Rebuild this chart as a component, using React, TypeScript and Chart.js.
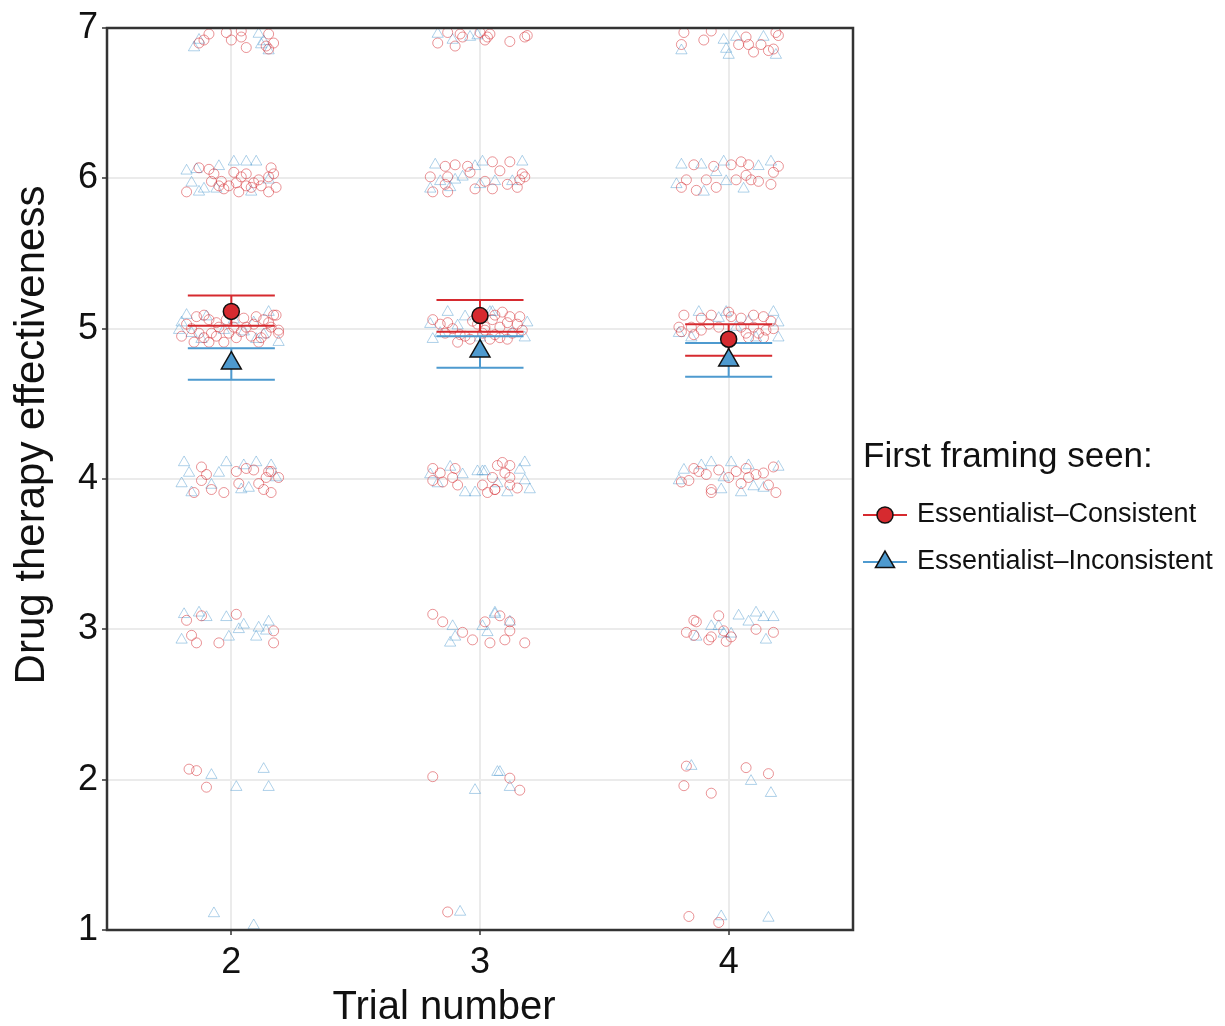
import React, { useEffect, useRef } from "react";
import { Chart, registerables } from "chart.js";

Chart.register(...registerables);

// ---------- data ----------
const trials = [2, 3, 4];
const yTickValues = [1, 2, 3, 4, 5, 6, 7];

const consistentMean = [5.115, 5.087, 4.93];
const consistentLow = [5.02, 4.98, 4.82];
const consistentHigh = [5.22, 5.19, 5.03];

const inconsistentMean = [4.77, 4.85, 4.79];
const inconsistentLow = [4.66, 4.74, 4.68];
const inconsistentHigh = [4.87, 4.95, 4.905];

// jittered individual responses [x, y]
const consistentT2: [number, number][] = [
  [1.91, 6.96], [1.98, 6.97], [2.04, 6.98], [2.04, 6.94], [2.0, 6.92], [2.15, 6.96], [2.17, 6.9], [2.06, 6.87], [2.14, 6.88], [1.89, 6.92], [1.87, 6.9], [2.15, 6.86],
  [1.87, 6.07], [1.82, 5.91], [1.92, 5.98], [1.91, 6.06], [1.96, 5.98], [2.01, 6.04], [2.02, 5.97], [2.04, 6.01], [2.06, 5.95], [2.09, 5.97], [2.11, 5.99], [2.12, 5.95], [2.16, 6.07], [2.17, 6.03], [2.15, 6.01], [2.18, 5.94], [2.03, 5.91], [1.97, 5.93], [1.93, 6.03], [2.06, 6.03], [2.15, 5.91], [1.99, 5.95], [2.08, 5.94], [1.95, 5.95],
  [1.82, 5.03], [1.86, 5.08], [1.89, 5.09], [1.91, 5.06], [1.94, 5.04], [1.87, 4.97], [1.92, 4.97], [1.91, 4.91], [1.97, 4.91], [2.02, 4.94], [2.01, 5.01], [2.06, 5.01], [2.05, 5.07], [2.1, 5.08], [2.13, 5.06], [2.18, 5.09], [2.14, 4.97], [2.19, 4.97], [2.11, 4.91], [2.08, 4.95], [1.98, 5.06], [1.85, 4.91], [2.16, 5.01], [1.95, 5.01], [2.19, 4.99], [2.17, 5.09], [1.8, 4.95],
  [1.84, 5.0], [1.89, 4.94], [1.94, 4.95], [2.04, 4.98], [2.09, 5.03], [2.12, 4.94], [1.99, 4.97], [2.15, 5.04],
  [1.88, 4.08], [1.9, 4.03], [1.88, 3.99], [1.85, 3.91], [1.92, 3.93], [1.97, 3.91], [2.02, 4.05], [2.06, 4.07], [2.09, 4.06], [2.15, 4.05], [2.16, 4.05], [2.19, 4.01], [2.03, 3.97], [2.11, 3.97], [2.13, 3.93], [2.16, 3.91], [2.14, 4.01],
  [1.82, 3.06], [1.88, 3.09], [2.02, 3.1], [1.84, 2.96], [1.86, 2.91], [1.95, 2.91], [2.17, 2.99], [2.17, 2.91],
  [1.83, 2.07], [1.86, 2.06], [1.9, 1.95],
];
const inconsistentT2: [number, number][] = [
  [1.85, 6.87], [1.87, 6.92], [2.11, 6.96], [2.13, 6.91], [2.15, 6.85], [2.12, 6.89],
  [1.82, 6.05], [1.84, 5.97], [1.89, 5.93], [1.95, 6.08], [2.01, 6.11], [2.06, 6.11], [2.1, 6.11], [1.94, 5.93], [1.86, 6.06], [2.08, 5.91], [1.87, 5.91], [2.15, 5.99],
  [1.82, 5.09], [1.84, 4.97], [1.97, 4.99], [2.01, 5.06], [2.05, 4.98], [2.1, 4.93], [2.15, 5.11], [2.19, 4.91], [1.88, 4.93], [2.09, 5.04], [1.8, 5.04], [1.79, 4.99], [1.9, 5.08], [2.13, 4.96],
  [1.81, 4.11], [1.8, 3.97], [1.84, 3.91], [1.83, 4.04], [1.92, 3.96], [1.95, 4.04], [1.98, 4.11], [2.05, 4.09], [2.1, 4.11], [2.16, 4.09], [2.07, 3.94], [2.18, 4.01], [2.04, 3.93],
  [1.81, 3.1], [1.87, 3.11], [1.9, 3.08], [1.8, 2.93], [1.98, 3.08], [1.99, 2.95], [2.03, 3.0], [2.05, 3.03], [2.11, 3.01], [2.1, 2.95], [2.15, 3.05], [2.14, 2.99],
  [1.92, 2.03], [2.02, 1.95], [2.13, 2.07], [2.15, 1.95],
  [1.93, 1.11], [2.09, 1.03],
];
const consistentT3: [number, number][] = [
  [2.83, 6.9], [2.87, 6.97], [2.92, 6.96], [2.9, 6.88], [3.0, 6.97], [3.02, 6.92], [3.04, 6.96], [2.93, 6.94], [3.12, 6.91], [3.18, 6.94], [3.19, 6.95], [3.03, 6.94],
  [2.8, 6.01], [2.86, 6.08], [2.9, 6.09], [2.87, 6.01], [2.87, 5.91], [2.81, 5.91], [2.95, 6.08], [2.96, 6.04], [3.02, 5.98], [3.05, 6.11], [2.98, 5.93], [3.05, 5.93], [2.86, 5.96], [3.12, 6.11], [3.08, 6.05], [3.11, 5.96], [3.16, 5.99], [3.18, 6.01], [3.15, 5.94], [3.17, 6.03],
  [2.81, 5.06], [2.84, 5.03], [2.87, 5.04], [2.91, 4.91], [2.97, 5.05], [3.02, 5.01], [3.05, 5.06], [2.86, 4.97], [2.94, 4.95], [3.01, 4.97], [3.06, 4.96], [3.06, 5.09], [3.09, 5.11], [3.12, 5.08], [3.16, 5.08], [3.08, 5.01], [3.11, 5.04], [3.15, 5.03], [3.02, 4.99], [3.08, 4.94], [3.11, 4.93], [3.04, 4.93], [3.17, 4.99],
  [2.89, 5.0], [2.92, 4.96], [2.96, 4.93], [3.13, 4.97], [2.99, 5.03],
  [2.81, 4.07], [2.84, 4.04], [2.81, 3.99], [2.85, 3.98], [2.9, 4.07], [2.89, 4.01], [2.91, 3.96], [3.01, 3.96], [3.03, 3.91], [3.06, 3.93], [3.07, 4.09], [3.09, 4.11], [3.12, 4.09], [3.1, 4.04], [3.05, 4.01], [3.12, 4.01], [3.06, 3.93], [3.12, 3.96], [3.15, 3.94],
  [2.81, 3.1], [2.85, 3.05], [2.93, 2.98], [2.97, 2.93], [3.02, 3.05], [3.04, 2.91], [3.08, 3.09], [3.12, 3.05], [3.12, 2.99], [3.1, 2.93], [3.18, 2.91],
  [2.81, 2.02], [3.12, 2.01], [3.16, 1.93],
  [2.87, 1.12],
];
const inconsistentT3: [number, number][] = [
  [2.83, 6.96], [2.89, 6.92], [2.96, 6.94], [2.99, 6.95],
  [2.82, 6.09], [2.8, 5.93], [2.84, 5.98], [2.93, 6.01], [2.98, 6.08], [3.01, 6.11], [2.88, 5.94], [2.9, 5.99], [3.17, 6.11], [3.06, 5.98], [3.13, 5.98], [3.0, 5.96],
  [2.8, 5.03], [2.81, 4.93], [2.87, 5.11], [2.94, 5.08], [2.84, 4.97], [3.05, 5.11], [3.04, 5.11], [3.19, 5.04], [3.18, 4.94], [3.13, 4.97], [3.0, 4.94], [2.91, 5.02],
  [2.8, 4.03], [2.88, 4.08], [2.93, 4.03], [2.94, 3.91], [2.99, 4.05], [3.02, 4.05], [2.98, 3.91], [2.83, 3.97], [3.18, 4.11], [3.01, 4.05], [3.16, 4.06], [3.18, 3.99], [3.2, 3.93], [3.11, 3.91], [3.07, 3.97],
  [2.89, 3.02], [2.88, 2.91], [2.9, 2.95], [3.01, 3.02], [3.03, 2.98], [3.06, 3.1], [3.06, 3.11], [3.12, 3.05],
  [2.98, 1.93], [3.07, 2.05], [3.08, 2.05], [3.12, 1.95],
  [2.92, 1.12],
];
const consistentT4: [number, number][] = [
  [3.82, 6.97], [3.81, 6.89], [3.9, 6.92], [3.93, 6.98], [4.07, 6.94], [4.04, 6.89], [4.08, 6.89], [4.13, 6.89], [4.1, 6.84], [4.16, 6.85], [4.18, 6.86], [4.19, 6.97], [4.2, 6.95],
  [3.86, 6.09], [3.81, 5.94], [3.83, 5.99], [3.91, 5.99], [3.94, 6.08], [4.01, 6.09], [4.05, 6.11], [4.08, 6.09], [4.03, 5.99], [4.09, 5.99], [4.12, 5.98], [4.17, 5.96], [4.2, 6.08], [4.18, 6.04], [3.95, 5.94], [3.87, 5.92], [4.07, 6.02],
  [3.82, 5.09], [3.8, 5.01], [3.85, 5.01], [3.89, 5.07], [3.93, 5.09], [4.0, 5.11], [4.01, 5.08], [4.05, 5.07], [4.1, 5.09], [4.14, 5.08], [4.17, 5.05], [4.15, 4.99], [4.1, 5.01], [4.07, 4.97], [4.08, 4.94], [4.14, 4.94], [3.89, 4.99], [3.96, 5.01], [3.81, 4.98], [4.05, 5.01],
  [3.86, 4.96], [3.92, 5.03], [4.12, 4.97], [4.18, 5.0],
  [3.81, 3.98], [3.84, 3.99], [3.86, 4.07], [3.88, 4.05], [3.91, 4.03], [3.93, 3.93], [3.93, 3.91], [4.0, 4.01], [4.03, 4.05], [4.05, 3.97], [4.07, 4.07], [4.08, 4.01], [4.11, 4.03], [4.14, 4.04], [4.16, 3.96], [4.18, 4.08], [4.19, 3.91], [3.96, 4.06],
  [3.86, 3.06], [3.87, 3.05], [3.83, 2.98], [3.86, 2.96], [3.92, 2.93], [3.96, 3.09], [3.98, 2.99], [3.99, 2.92], [4.01, 2.95], [4.11, 3.0], [4.18, 2.98], [3.93, 2.95],
  [3.83, 2.09], [3.82, 1.96], [3.93, 1.91], [4.07, 2.08], [4.16, 2.04],
  [3.84, 1.09], [3.96, 1.05],
];
const inconsistentT4: [number, number][] = [
  [3.81, 6.85], [3.98, 6.92], [4.0, 6.82], [4.03, 6.94], [4.14, 6.94], [4.19, 6.82], [3.99, 6.86],
  [3.81, 6.09], [3.79, 5.96], [3.89, 6.09], [3.98, 6.11], [3.95, 6.04], [3.99, 5.98], [4.06, 5.93], [4.12, 6.08], [4.17, 6.11], [3.9, 5.91],
  [3.8, 4.97], [3.88, 5.11], [3.99, 5.11], [4.03, 5.01], [4.18, 5.11], [4.2, 5.04], [4.2, 4.94], [4.11, 4.94], [3.85, 4.94], [3.96, 5.07], [4.08, 5.05],
  [3.82, 4.06], [3.8, 3.99], [3.89, 4.09], [3.93, 4.11], [3.97, 3.93], [4.01, 4.11], [4.05, 3.91], [4.08, 4.09], [4.1, 3.95], [4.14, 3.94], [4.2, 4.08], [3.98, 4.01],
  [3.87, 2.95], [3.93, 3.02], [3.96, 3.02], [4.01, 2.97], [4.04, 3.09], [4.08, 3.05], [4.11, 3.11], [4.14, 3.08], [4.18, 3.08], [4.15, 2.93], [3.98, 2.97],
  [3.85, 2.09], [4.09, 1.99], [4.17, 1.91],
  [3.97, 1.09], [4.16, 1.08],
];

const groupLabels = ["Essentialist\u2013Consistent", "Essentialist\u2013Inconsistent"];
const legendTitle = "First framing seen:";
const xTitle = "Trial number";
const yTitle = "Drug therapy effectiveness";

// ---------- styles ----------
const RED = "#D62A2F";
const BLUE = "#4E9ACF";
const RED_JIT = "rgba(214,42,47,0.5)";
const BLUE_JIT = "rgba(78,154,207,0.45)";
const FONT = "'Liberation Sans', Arial, Helvetica, sans-serif";
const CAP_HALF = 0.175;

const toPts = (arr: [number, number][]) => arr.map(([x, y]) => ({ x, y }));

export default function App() {
  const ref = useRef<HTMLCanvasElement | null>(null);

  useEffect(() => {
    document.body.style.margin = "0";
    const canvas = ref.current!;

    const errorBars = {
      id: "errorBars",
      beforeDatasetDraw(chart: any, args: any) {
        if (args.index !== 1) return;
        const xs = chart.scales.x;
        const ys = chart.scales.y;
        const ctx = chart.ctx;
        const groups = [
          { lo: inconsistentLow, hi: inconsistentHigh, c: BLUE },
          { lo: consistentLow, hi: consistentHigh, c: RED },
        ];
        ctx.save();
        ctx.lineWidth = 2;
        groups.forEach((g) => {
          ctx.strokeStyle = g.c;
          trials.forEach((t, i) => {
            const xc = xs.getPixelForValue(t);
            const xl = xs.getPixelForValue(t - CAP_HALF);
            const xr = xs.getPixelForValue(t + CAP_HALF);
            const yl = ys.getPixelForValue(g.lo[i]);
            const yh = ys.getPixelForValue(g.hi[i]);
            ctx.beginPath();
            ctx.moveTo(xc, yl);
            ctx.lineTo(xc, yh);
            ctx.moveTo(xl, yl);
            ctx.lineTo(xr, yl);
            ctx.moveTo(xl, yh);
            ctx.lineTo(xr, yh);
            ctx.stroke();
          });
        });
        ctx.restore();
      },
    };

    const frame = {
      id: "frame",
      afterDraw(chart: any) {
        const { ctx, chartArea: a } = chart;
        ctx.save();
        ctx.strokeStyle = "#333333";
        ctx.lineWidth = 2.5;
        ctx.strokeRect(a.left, a.top, a.right - a.left, a.bottom - a.top);

        // axis titles
        ctx.fillStyle = "#111111";
        ctx.textAlign = "center";
        ctx.textBaseline = "alphabetic";
        ctx.font = `40px ${FONT}`;
        ctx.fillText(xTitle, (a.left + a.right) / 2 - 36, a.bottom + 89);
        ctx.save();
        ctx.font = `42px ${FONT}`;
        ctx.translate(a.left - 63, (a.top + a.bottom) / 2 - 44);
        ctx.rotate(-Math.PI / 2);
        ctx.fillText(yTitle, 0, 0);
        ctx.restore();

        // legend
        const lx = a.right + 10;
        ctx.textAlign = "left";
        ctx.font = `35px ${FONT}`;
        ctx.fillText(legendTitle, lx, a.top + 439);
        ctx.font = `27px ${FONT}`;
        ctx.textBaseline = "middle";
        const rows = [
          { y: a.top + 487, c: RED, shape: "circle" },
          { y: a.top + 534, c: BLUE, shape: "triangle" },
        ];
        rows.forEach((r, i) => {
          ctx.strokeStyle = r.c;
          ctx.lineWidth = 2;
          ctx.beginPath();
          ctx.moveTo(lx, r.y);
          ctx.lineTo(lx + 44, r.y);
          ctx.stroke();
          ctx.fillStyle = r.c;
          ctx.strokeStyle = "#111111";
          ctx.lineWidth = 1.5;
          ctx.beginPath();
          if (r.shape === "circle") {
            ctx.arc(lx + 22, r.y, 8, 0, Math.PI * 2);
          } else {
            const rad = 11;
            ctx.moveTo(lx + 22, r.y - rad);
            ctx.lineTo(lx + 22 + rad * Math.sin((2 * Math.PI) / 3), r.y + rad / 2);
            ctx.lineTo(lx + 22 - rad * Math.sin((2 * Math.PI) / 3), r.y + rad / 2);
            ctx.closePath();
          }
          ctx.fill();
          ctx.stroke();
          ctx.fillStyle = "#111111";
          ctx.fillText(groupLabels[i], lx + 54, r.y);
        });
        ctx.restore();
      },
    };

    const chart = new Chart(canvas, {
      type: "scatter",
      data: {
        datasets: [
          {
            label: groupLabels[0] + " mean",
            data: trials.map((t, i) => ({ x: t, y: consistentMean[i] })),
            pointStyle: "circle",
            pointRadius: 8,
            backgroundColor: RED,
            borderColor: "#111111",
            borderWidth: 1.5,
            order: 0,
          },
          {
            label: groupLabels[1] + " mean",
            data: trials.map((t, i) => ({ x: t, y: inconsistentMean[i] })),
            pointStyle: "triangle",
            pointRadius: 11.5,
            backgroundColor: BLUE,
            borderColor: "#111111",
            borderWidth: 1.5,
            order: 0,
          },
          {
            label: groupLabels[0],
            data: [...toPts(consistentT2), ...toPts(consistentT3), ...toPts(consistentT4)],
            pointStyle: "circle",
            pointRadius: 5,
            backgroundColor: "rgba(0,0,0,0)",
            borderColor: RED_JIT,
            borderWidth: 1,
            clip: 0,
            order: 1,
          },
          {
            label: groupLabels[1],
            data: [...toPts(inconsistentT2), ...toPts(inconsistentT3), ...toPts(inconsistentT4)],
            pointStyle: "triangle",
            pointRadius: 6.5,
            backgroundColor: "rgba(0,0,0,0)",
            borderColor: BLUE_JIT,
            borderWidth: 1,
            clip: 0,
            order: 1,
          },
        ] as any,
      },
      options: {
        responsive: false,
        animation: false,
        devicePixelRatio: 1,
        layout: { padding: { top: 28, right: 372, bottom: 0, left: 0 } },
        plugins: {
          legend: { display: false },
          tooltip: { enabled: false },
          title: { display: false },
        },
        scales: {
          x: {
            type: "linear",
            min: 1.5,
            max: 4.5,
            afterBuildTicks: (s: any) => {
              s.ticks = trials.map((v) => ({ value: v }));
            },
            afterFit: (s: any) => {
              s.height = 96;
            },
            ticks: {
              font: { family: FONT, size: 36 },
              color: "#111111",
              padding: 6,
              maxRotation: 0,
            },
            grid: { color: "#EBEBEB", lineWidth: 2, tickColor: "#333333", tickLength: 5, tickWidth: 1.5 },
            border: { display: false },
          },
          y: {
            type: "linear",
            min: 1,
            max: 7,
            afterBuildTicks: (s: any) => {
              s.ticks = yTickValues.map((v) => ({ value: v }));
            },
            afterFit: (s: any) => {
              s.width = 107;
            },
            ticks: {
              font: { family: FONT, size: 36 },
              color: "#111111",
              padding: 4,
            },
            grid: { color: "#EBEBEB", lineWidth: 2, tickColor: "#333333", tickLength: 5, tickWidth: 1.5 },
            border: { display: false },
          },
        },
      } as any,
      plugins: [errorBars, frame],
    });

    return () => chart.destroy();
  }, []);

  return (
    <canvas
      ref={ref}
      width={1225}
      height={1026}
      style={{ display: "block", width: "1225px", height: "1026px", background: "#ffffff" }}
    />
  );
}
